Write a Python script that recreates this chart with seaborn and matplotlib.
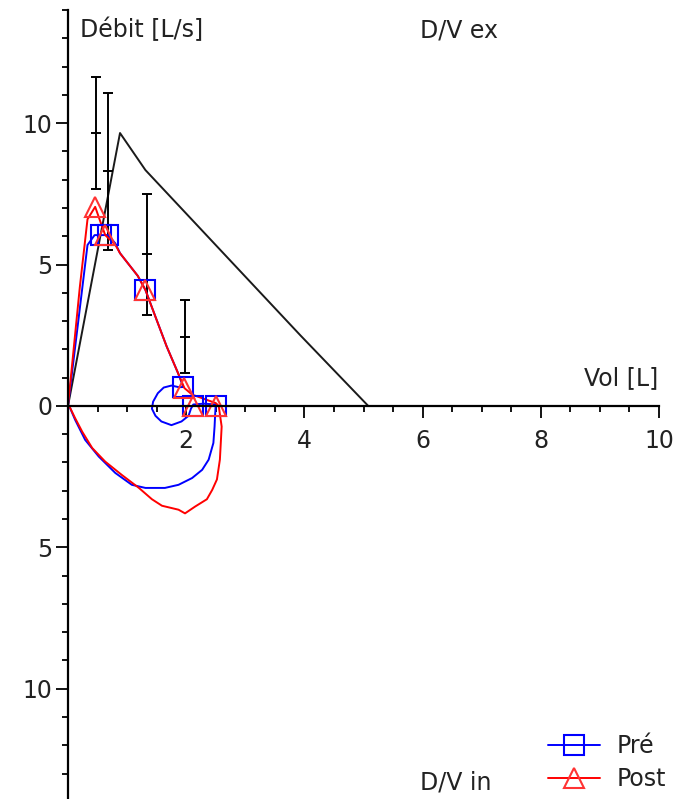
import numpy as np
import pandas as pd
import seaborn as sns
import matplotlib.pyplot as plt
from matplotlib.lines import Line2D
from matplotlib.ticker import MultipleLocator, FuncFormatter

# predicted curve (black)
refVol = [0, 0.88, 1.31, 3.93, 5.08]
refFlow = [0, 9.65, 8.34, 2.50, 0]

# predicted values with SD
ebarVol = [0.47, 0.67, 1.34, 1.98]
ebarMean = [9.65, 8.30, 5.36, 2.45]
ebarSd = [1.98, 2.77, 2.15, 1.28]

# Pré loop (blue)
preVol = [0, 0.33, 0.45, 0.56, 0.68, 0.80, 0.88, 1.03, 1.18, 1.31, 1.50, 1.67, 1.86, 1.95,
          1.88, 1.75, 1.62, 1.52, 1.44, 1.42, 1.48, 1.58, 1.75, 1.92, 2.04, 2.08, 2.12, 2.30, 2.50,
          2.49, 2.48, 2.46, 2.38, 2.27, 2.10, 1.87, 1.64, 1.31, 1.08, 0.80, 0.52, 0.29, 0.12, 0.02]
preFlow = [0, 5.69, 6.04, 6.04, 6.04, 5.75, 5.40, 5.00, 4.60, 4.10, 3.04, 2.10, 1.17, 0.67,
           0.66, 0.72, 0.65, 0.45, 0.15, -0.10, -0.35, -0.55, -0.68, -0.55, -0.35, -0.10, 0.05, 0.08, 0.05,
           -0.30, -0.73, -1.31, -1.90, -2.26, -2.55, -2.79, -2.90, -2.90, -2.79, -2.37, -1.79, -1.20, -0.49, 0]

# Post loop (red)
postVol = [0, 0.20, 0.33, 0.46, 0.55, 0.63, 0.80, 0.88, 1.03, 1.18, 1.31, 1.50, 1.67, 1.86, 1.97,
           2.10, 2.30, 2.50, 2.55,
           2.60, 2.57, 2.52, 2.44, 2.35, 2.15, 1.98, 1.87, 1.59, 1.42, 1.20, 0.91, 0.63, 0.41, 0.24, 0.12, 0.02]
postFlow = [0, 4.20, 6.60, 7.04, 6.50, 6.04, 5.70, 5.40, 5.00, 4.60, 4.10, 3.04, 2.10, 1.17, 0.63,
            0.40, 0.25, 0.10, 0,
            -0.73, -1.90, -2.60, -2.97, -3.30, -3.56, -3.80, -3.67, -3.53, -3.30, -2.90, -2.44, -1.97, -1.49, -0.91, -0.43, 0]

# markers
preMkVol = [0.56, 0.68, 1.31, 1.95, 2.12, 2.50]
preMkFlow = [6.04, 6.04, 4.10, 0.67, 0, 0]
postMkVol = [0.46, 0.63, 1.31, 1.97, 2.12, 2.50]
postMkFlow = [7.04, 6.04, 4.10, 0.63, 0, 0]

sns.set_style('white')
plt.rcParams['font.family'] = ['DejaVu Sans']
txtColor = '#222222'

fig = plt.figure(figsize=(6.93, 7.99), dpi=100)
ax = fig.add_axes([68 / 693, 0, 591 / 693, 789 / 799])

dfRef = pd.DataFrame({'Vol': refVol, 'Flow': refFlow})
dfPre = pd.DataFrame({'Vol': preVol, 'Flow': preFlow})
dfPost = pd.DataFrame({'Vol': postVol, 'Flow': postFlow})

sns.lineplot(data=dfRef, x='Vol', y='Flow', sort=False, estimator=None, color='#1a1a1a', linewidth=1.4, ax=ax)
ax.errorbar(ebarVol, ebarMean, yerr=ebarSd, fmt='_', color='black', ecolor='black',
            elinewidth=1.4, capsize=3.5, capthick=1.4, markersize=7, markeredgewidth=1.4)
sns.lineplot(data=dfPre, x='Vol', y='Flow', sort=False, estimator=None, color='#0000ff', linewidth=1.4, ax=ax)
sns.lineplot(data=dfPost, x='Vol', y='Flow', sort=False, estimator=None, color='#ff0000', linewidth=1.4, ax=ax)
ax.plot(preMkVol, preMkFlow, linestyle='none', marker='s', markersize=15, markerfacecolor='none',
        markeredgecolor='#0000ff', markeredgewidth=1.5)
ax.plot(postMkVol, postMkFlow, linestyle='none', marker='^', markersize=15, markerfacecolor='none',
        markeredgecolor='#ff3333', markeredgewidth=1.5)

ax.set_xlim(0, 10)
ax.set_ylim(-13.9, 14.0)
ax.set_xlabel('')
ax.set_ylabel('')

for side in ['top', 'right']:
    ax.spines[side].set_visible(False)
ax.spines['left'].set_position(('data', 0))
ax.spines['bottom'].set_position(('data', 0))
for side in ['left', 'bottom']:
    ax.spines[side].set_color('black')
    ax.spines[side].set_linewidth(1.6)

ax.xaxis.set_major_locator(MultipleLocator(2))
ax.xaxis.set_minor_locator(MultipleLocator(0.5))
ax.yaxis.set_major_locator(MultipleLocator(5))
ax.yaxis.set_minor_locator(MultipleLocator(1))
ax.xaxis.set_major_formatter(FuncFormatter(lambda v, p: '' if v == 0 else f'{v:g}'))
ax.yaxis.set_major_formatter(FuncFormatter(lambda v, p: f'{abs(v):g}'))
ax.tick_params(axis='both', which='major', direction='out', length=8.5, width=1.3, colors='black',
               labelsize=17, labelcolor=txtColor)
ax.tick_params(axis='both', which='minor', direction='out', length=4.5, width=1.3, colors='black')
ax.tick_params(axis='x', which='major', pad=8)
ax.tick_params(axis='y', which='major', pad=3)
ax.tick_params(left=True, bottom=True, which='both')
ax.grid(False)

fig.text(80 / 693, 1 - 30 / 799, 'Débit [L/s]', fontsize=17, color=txtColor, ha='left', va='center')
fig.text(420 / 693, 1 - 31 / 799, 'D/V ex', fontsize=17, color=txtColor, ha='left', va='center')
fig.text(658 / 693, 1 - 378 / 799, 'Vol [L]', fontsize=17, color=txtColor, ha='right', va='center')
fig.text(420 / 693, 1 - 783 / 799, 'D/V in', fontsize=17, color=txtColor, ha='left', va='center')

handles = [
    Line2D([], [], color='#0000ff', linewidth=1.4, marker='s', markersize=15, markerfacecolor='none',
           markeredgecolor='#0000ff', markeredgewidth=1.5),
    Line2D([], [], color='#ff0000', linewidth=1.4, marker='^', markersize=15, markerfacecolor='none',
           markeredgecolor='#ff3333', markeredgewidth=1.5),
]
fig.legend(handles, ['Pré', 'Post'], loc='lower right', bbox_to_anchor=(680 / 693, -6 / 799),
           frameon=False, fontsize=17, handlelength=2.2, handletextpad=0.7, labelspacing=0.38,
           borderpad=0.1, labelcolor=txtColor)

plt.savefig('out.png', dpi=100)
